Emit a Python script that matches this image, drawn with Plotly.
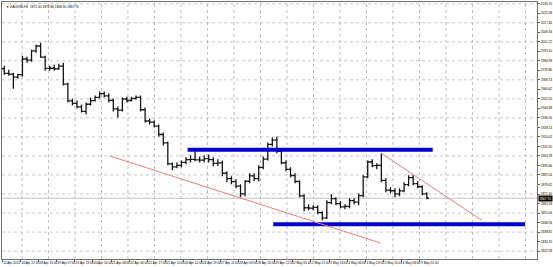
import plotly.graph_objects as go

# ---------------- data (XAUUSD, 4-hour-equivalent bars) ----------------
opens = [1978.2, 1974.3, 1973.6, 1971.1, 1973.1, 1986.5, 1985.5, 1993.5, 1997.6, 1988.1,
         1978.5, 1978.6, 1978.2, 1980.4, 1965.1, 1950.8, 1948.6, 1945.7, 1941.9, 1947.9,
         1951.0, 1953.8, 1957.0, 1955.1, 1951.2, 1943.9, 1942.9, 1952.4, 1951.1, 1952.8,
         1953.8, 1943.2, 1933.6, 1932.6, 1929.3, 1922.1, 1914.9, 1897.0, 1894.4, 1895.8,
         1898.3, 1900.6, 1900.9, 1900.4, 1900.3, 1901.5, 1900.6, 1897.4, 1897.8, 1889.0,
         1884.4, 1881.8, 1878.1, 1871.4, 1882.2, 1886.8, 1884.4, 1894.0, 1901.1, 1913.6,
         1917.3, 1907.7, 1898.0, 1892.4, 1887.1, 1882.0, 1869.8, 1859.6, 1859.2, 1859.9,
         1855.5, 1851.0, 1864.0, 1867.3, 1863.1, 1860.3, 1860.7, 1865.6, 1864.3, 1869.9,
         1886.0, 1898.6, 1895.6, 1895.8, 1883.0, 1874.6, 1874.1, 1871.4, 1874.0, 1879.3,
         1885.3, 1880.1, 1877.5, 1871.4]
highs = [1980.8, 1977.4, 1974.8, 1974.0, 1989.3, 1988.4, 1994.4, 1998.6, 2000.3, 1989.3,
         1980.8, 1981.6, 1982.5, 1983.3, 1966.3, 1952.7, 1951.0, 1947.6, 1949.3, 1953.6,
         1955.3, 1958.7, 1958.7, 1957.0, 1952.7, 1945.9, 1953.6, 1954.4, 1954.4, 1955.3,
         1955.3, 1945.1, 1935.7, 1934.0, 1930.6, 1923.8, 1916.2, 1898.3, 1898.3, 1900.0,
         1902.6, 1904.3, 1907.7, 1903.4, 1904.3, 1905.1, 1902.6, 1900.9, 1900.0, 1890.7,
         1886.4, 1883.9, 1879.6, 1883.0, 1889.0, 1889.0, 1895.8, 1903.4, 1915.3, 1919.6,
         1920.4, 1909.4, 1900.0, 1894.1, 1889.0, 1883.0, 1871.1, 1862.6, 1861.8, 1861.8,
         1856.7, 1866.0, 1871.1, 1868.6, 1865.2, 1862.6, 1867.7, 1867.7, 1872.0, 1887.3,
         1900.0, 1900.9, 1897.5, 1906.0, 1884.7, 1877.1, 1876.2, 1876.2, 1881.3, 1887.3,
         1887.3, 1882.2, 1878.8, 1872.8]
lows = [1973.1, 1972.3, 1961.2, 1969.7, 1971.4, 1983.3, 1984.2, 1991.8, 1987.6, 1976.5,
        1976.5, 1976.5, 1977.4, 1963.8, 1949.3, 1946.8, 1944.2, 1940.8, 1939.1, 1946.8,
        1950.2, 1952.7, 1953.6, 1949.3, 1941.7, 1936.6, 1941.7, 1949.3, 1950.2, 1951.9,
        1941.7, 1932.3, 1930.6, 1928.1, 1920.4, 1912.8, 1895.8, 1891.5, 1893.2, 1894.1,
        1896.6, 1898.3, 1899.2, 1898.3, 1898.3, 1898.3, 1894.9, 1894.9, 1886.4, 1881.3,
        1879.6, 1876.2, 1868.6, 1869.4, 1880.5, 1882.2, 1882.2, 1892.4, 1900.0, 1911.9,
        1906.0, 1896.6, 1890.7, 1885.6, 1880.5, 1868.6, 1856.7, 1857.5, 1857.5, 1854.1,
        1849.0, 1849.9, 1862.6, 1861.8, 1859.2, 1858.4, 1859.2, 1862.6, 1861.8, 1868.6,
        1884.7, 1894.1, 1892.4, 1881.3, 1872.8, 1872.0, 1868.6, 1869.4, 1872.8, 1877.9,
        1878.8, 1876.2, 1870.3, 1866.9]
closes = [1974.3, 1973.6, 1971.1, 1973.1, 1986.5, 1985.5, 1993.5, 1997.6, 1988.1, 1978.5,
          1978.6, 1978.2, 1980.4, 1965.1, 1950.8, 1948.6, 1945.7, 1941.9, 1947.9, 1951.0,
          1953.8, 1957.0, 1955.1, 1951.2, 1943.9, 1942.9, 1952.4, 1951.1, 1952.8, 1953.8,
          1943.2, 1933.6, 1932.6, 1929.3, 1922.1, 1914.9, 1897.0, 1894.4, 1895.8, 1898.3,
          1900.6, 1900.9, 1900.4, 1900.3, 1901.5, 1900.6, 1897.4, 1897.8, 1889.0, 1884.4,
          1881.8, 1878.1, 1871.4, 1882.2, 1886.8, 1884.4, 1894.0, 1901.1, 1913.6, 1917.3,
          1907.7, 1898.0, 1892.4, 1887.1, 1882.0, 1869.8, 1859.6, 1859.2, 1859.9, 1855.5,
          1851.0, 1864.0, 1867.3, 1863.1, 1860.3, 1860.7, 1865.6, 1864.3, 1869.9, 1886.0,
          1898.6, 1895.6, 1895.8, 1883.0, 1874.6, 1874.1, 1871.4, 1874.0, 1879.3, 1885.3,
          1880.1, 1877.5, 1871.4, 1867.7]

# horizontal levels (resistance / support) : [start bar, end bar, price]
resistance = [40.36, 94.30, 1909.1]
support = [59.21, 114.63, 1845.4]
# trend lines : [bar0, price0, bar1, price1]
trend_lower = [23.18, 1903.8, 82.83, 1829.45]
trend_upper = [83.12, 1905.7, 105.05, 1849.0]

price_ticks = [2033.70, 2025.58, 2017.46, 2009.34, 2001.22, 1993.10, 1984.98, 1976.86,
               1968.74, 1960.62, 1952.50, 1944.38, 1936.26, 1928.14, 1920.02, 1911.90,
               1903.78, 1895.66, 1887.54, 1879.42, 1871.30, 1863.18, 1855.06, 1846.94,
               1838.82, 1830.70, 1822.58]
time_labels = ["14 Apr 2022", "14 Apr 22:00", "18 Apr 15:00", "19 Apr 07:00", "19 Apr 23:00",
               "20 Apr 16:00", "21 Apr 08:00", "22 Apr 00:00", "22 Apr 17:00", "25 Apr 10:00",
               "26 Apr 02:00", "26 Apr 19:00", "27 Apr 11:00", "28 Apr 03:00", "28 Apr 20:00",
               "29 Apr 12:00", "2 May 05:00", "2 May 21:00", "3 May 14:00", "4 May 06:00",
               "4 May 23:00", "5 May 15:00", "6 May 08:00", "9 May 01:00"]
title_text = "\u25bc XAUUSD,H1  1871.40 1872.80 1866.90 1867.70"

# ---------------- figure ----------------
bars = list(range(len(closes)))
label_pos = [-0.5 + 4 * k for k in range(len(time_labels))]
day_sep = [3.89 + 5.833 * k for k in range(20)]
FONT = "Liberation Sans, Arial, sans-serif"

fig = go.Figure(go.Ohlc(
    x=bars, open=opens, high=highs, low=lows, close=closes,
    increasing=dict(line=dict(color="#151515", width=1.3)),
    decreasing=dict(line=dict(color="#151515", width=1.3)),
    tickwidth=0.5, showlegend=False, hoverinfo="skip"))

shapes = []
for lv in price_ticks[::2]:
    shapes.append(dict(type="line", xref="paper", x0=0, x1=1, yref="y", y0=lv, y1=lv,
                       line=dict(color="#c8c8c8", width=1, dash="dot"), layer="below"))
for d in day_sep:
    shapes.append(dict(type="line", xref="x", x0=d, x1=d, yref="paper", y0=0, y1=1,
                       line=dict(color="#bdbdbd", width=1, dash="dot"), layer="below"))
# bid line
shapes.append(dict(type="line", xref="paper", x0=0, x1=1, yref="y", y0=closes[-1], y1=closes[-1],
                   line=dict(color="#c4c4c4", width=1), layer="below"))
for lvl in (resistance, support):
    shapes.append(dict(type="line", xref="x", yref="y", x0=lvl[0], x1=lvl[1], y0=lvl[2], y1=lvl[2],
                       line=dict(color="#0000cc", width=4)))
for tl in (trend_lower, trend_upper):
    shapes.append(dict(type="line", xref="x", yref="y", x0=tl[0], y0=tl[1], x1=tl[2], y1=tl[3],
                       line=dict(color="#f08080", width=1)))

fig.update_layout(
    width=553, height=267,
    margin=dict(l=2, r=14, t=1, b=8),
    paper_bgcolor="#ffffff", plot_bgcolor="#ffffff",
    shapes=shapes,
    font=dict(family=FONT, size=3.2, color="#000000"),
    xaxis=dict(range=[-0.5, 117.26], rangeslider=dict(visible=False), showgrid=False,
               zeroline=False, tickvals=label_pos, ticktext=time_labels, tickangle=0,
               ticklabelposition="outside right", ticks="outside", ticklen=2,
               tickcolor="#606060", tickfont=dict(size=3.2),
               showline=True, linecolor="#707070", linewidth=1, mirror=True),
    yaxis=dict(range=[1815.85, 2035.15], side="right", showgrid=False, zeroline=False,
               tickvals=price_ticks, ticktext=["%.2f" % v for v in price_ticks],
               ticks="outside", ticklen=2, tickcolor="#606060", tickfont=dict(size=3.2),
               showline=True, linecolor="#707070", linewidth=1, mirror=True),
    annotations=[
        dict(xref="paper", yref="paper", x=0.003, y=0.995, xanchor="left", yanchor="top",
             text=title_text, showarrow=False, font=dict(size=3.2, color="#000000")),
        dict(xref="paper", yref="y", x=1.0, y=closes[-1], xanchor="left", yanchor="middle",
             xshift=1, text="%.2f" % closes[-1], showarrow=False, bgcolor="#000000",
             borderpad=0.5, font=dict(size=3.2, color="#ffffff")),
    ],
)

fig.write_html("out.html")
